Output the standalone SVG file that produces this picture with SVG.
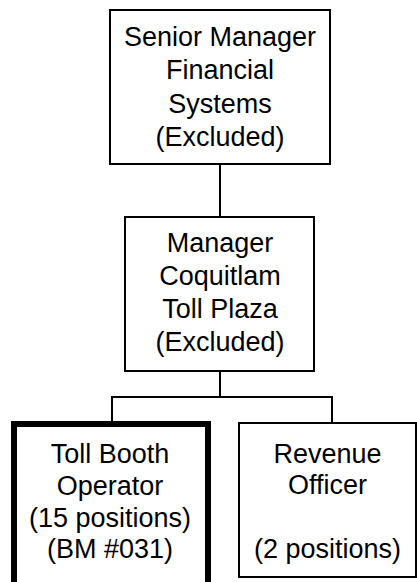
<svg xmlns="http://www.w3.org/2000/svg" width="417" height="582" viewBox="0 0 417 582">
<style>
.box{fill:#fff;stroke:#000;stroke-width:2}
.thick{fill:#fff;stroke:#000;stroke-width:6}
.conn{fill:none;stroke:#000;stroke-width:2}
text{font-family:"Liberation Sans",Arial,sans-serif;font-size:27px;fill:#000;text-anchor:middle}
</style>
<rect width="417" height="582" fill="#fff"/>
<g id="connectors">
<line class="conn" x1="220" y1="164" x2="220" y2="217"/>
<line class="conn" x1="220" y1="371" x2="220" y2="397"/>
<polyline class="conn" points="112,424 112,397 332,397 332,423"/>
</g>
<g id="senior-manager">
<rect class="box" x="110" y="10" width="220" height="154"/>
<text x="220" y="45.5">Senior Manager</text>
<text x="220" y="79">Financial</text>
<text x="220" y="112.5">Systems</text>
<text x="220" y="146">(Excluded)</text>
</g>
<g id="manager">
<rect class="box" x="125" y="217" width="189" height="154"/>
<text x="220" y="252">Manager</text>
<text x="220" y="285">Coquitlam</text>
<text x="220" y="318">Toll Plaza</text>
<text x="220" y="351">(Excluded)</text>
</g>
<g id="toll-booth-operator">
<rect class="thick" x="14" y="424" width="194" height="166"/>
<text x="110" y="463">Toll Booth</text>
<text x="110" y="495">Operator</text>
<text x="110" y="527">(15 positions)</text>
<text x="110" y="558">(BM #031)</text>
</g>
<g id="revenue-officer">
<rect class="box" x="239" y="423" width="177" height="154"/>
<text x="327.5" y="463">Revenue</text>
<text x="327.5" y="494">Officer</text>
<text x="327.5" y="558">(2 positions)</text>
</g>
</svg>
